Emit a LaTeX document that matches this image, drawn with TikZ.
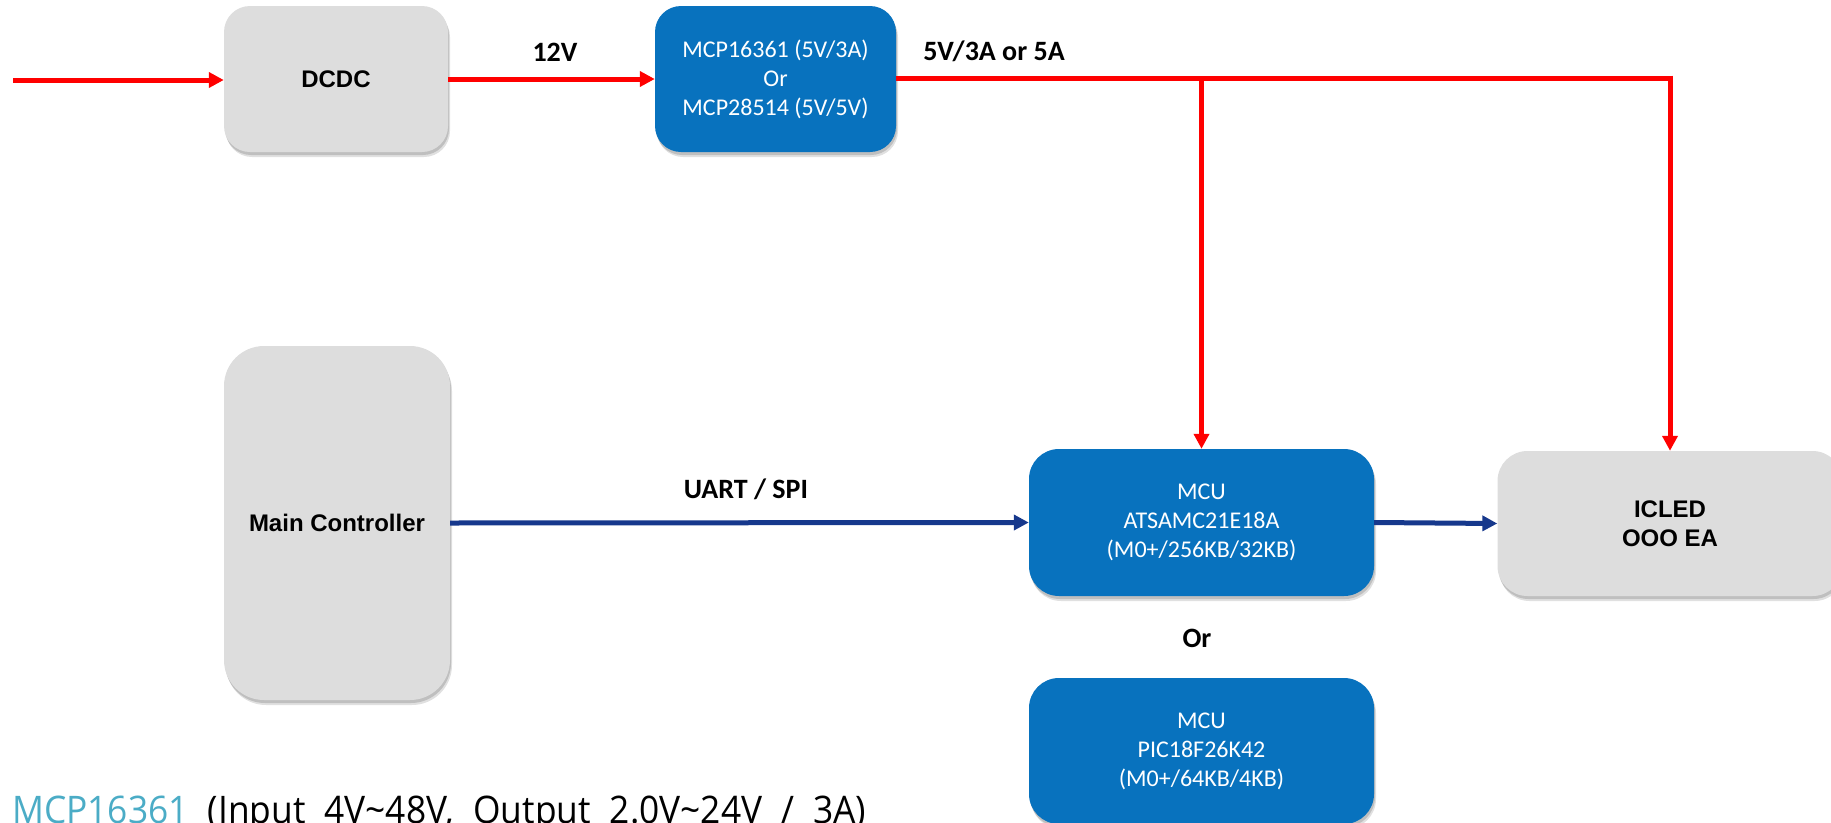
\documentclass[tikz,border=0pt]{standalone}
\usepackage{fontspec}
\setmainfont{Carlito}
\newfontfamily\arialf{Liberation Sans}
\newfontfamily\osans{Open Sans}[FakeStretch=0.93]
\usetikzlibrary{arrows.meta,shadows}
\definecolor{boxblue}{RGB}{8,114,190}
\definecolor{boxgray}{RGB}{221,221,221}
\definecolor{linkblue}{RGB}{22,56,140}
\definecolor{linkred}{RGB}{255,0,0}
\definecolor{noteblue}{RGB}{75,172,198}
\begin{document}
\begin{tikzpicture}[x=1pt,y=-1pt,
  softshadow/.style={general shadow={shadow xshift=2pt,shadow yshift=-5pt,fill=black,opacity=0.12},
                     general shadow={shadow xshift=1pt,shadow yshift=-3pt,fill=black,opacity=0.15}},
  graybox/.style={rectangle,fill=boxgray,draw=none,softshadow,inner sep=0pt,
                  font=\arialf\bfseries\fontsize{24}{29}\selectfont,text=black,align=center},
  bluebox/.style={rectangle,fill=boxblue,draw=none,softshadow,inner sep=0pt,
                  font=\fontsize{24}{29}\selectfont,text=white,align=center},
  lbl/.style={font=\bfseries\fontsize{28}{32}\selectfont,text=black,inner sep=0pt},
  redlink/.style={draw=linkred,line width=5pt,-{Triangle[length=15pt,width=15pt]}},
  redline/.style={draw=linkred,line width=5pt},
  bluelink/.style={draw=linkblue,line width=5pt,-{Triangle[length=15pt,width=15pt]}}
]
\useasboundingbox (0,0) rectangle (1831,822);
\clip (0,0) rectangle (1831,822);

% nodes
\node[graybox,rounded corners=26pt,minimum width=224pt,minimum height=146pt] (dcdc) at (336,79) {DCDC};
\node[bluebox,rounded corners=26pt,minimum width=241pt,minimum height=146pt] (mcp) at (775.5,79)
  {MCP16361 (5V/3A)\\Or\\MCP28514 (5V/5V)};
\node[graybox,rounded corners=40pt,minimum width=226pt,minimum height=354pt] (main) at (337,523) {Main Controller};
\node[bluebox,rounded corners=30pt,minimum width=345pt,minimum height=147pt] (mcu1) at (1201.5,522.5)
  {MCU\\ATSAMC21E18A\\(M0+/256KB/32KB)};
\node[graybox,rounded corners=30pt,minimum width=345pt,minimum height=145pt] (icled) at (1670,523.5)
  {ICLED\\OOO EA};
\node[bluebox,rounded corners=30pt,minimum width=345pt,minimum height=146pt] (mcu2) at (1201.5,751)
  {MCU\\PIC18F26K42\\(M0+/64KB/4KB)};

% labels
\node[lbl] (l12v) at (555,52) {12V};
\node[lbl] (l5v) at (994,51) {5V/3A or 5A};
\node[lbl] (luart) at (746,489) {UART / SPI};
\node[lbl] (lor) at (1197,638) {Or};
\node[anchor=base west,inner sep=0pt,font=\osans\fontsize{38}{44}\selectfont] (note) at (12,823)
  {\spaceskip=19pt\relax\textcolor{noteblue}{MCP16361} (Input 4V\textasciitilde48V, Output 2.0V\textasciitilde24V / 3A)};

% connectors
\coordinate (in) at (13,80);
\draw[redlink] (in) -- (in -| dcdc.west);
\draw[redlink] (dcdc.east) -- (mcp.west);
\draw[redline] ([yshift=1pt]mcp.east) -- ([yshift=1pt]mcp.east -| icled.north);
\draw[redlink] ([yshift=3.5pt]mcp.east -| icled.north) -- (icled.north);
\draw[redlink] ([yshift=1pt]mcp.east -| mcu1.north) -- (mcu1.north);
\draw[bluelink] (main.east) -- (mcu1.west);
\draw[bluelink] (mcu1.east) -- (icled.west);
\end{tikzpicture}
\end{document}
